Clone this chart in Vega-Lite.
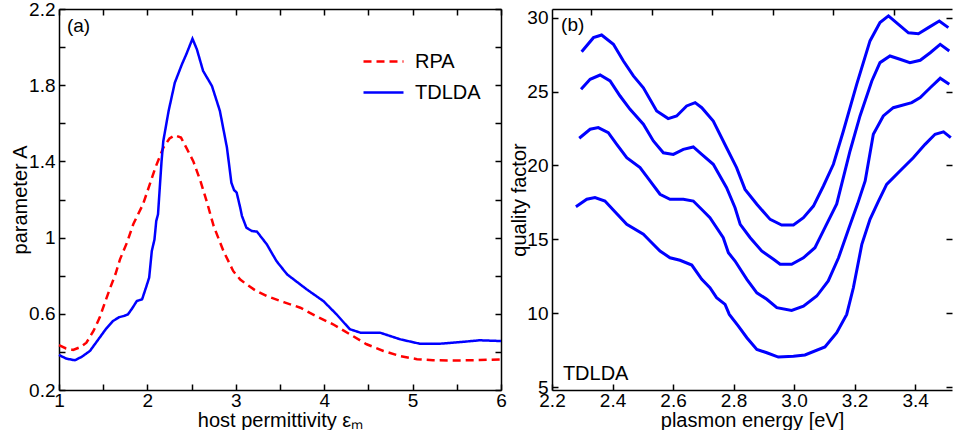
{
  "$schema": "https://vega.github.io/schema/vega-lite/v6.json",
  "padding": {"left": 10, "top": 0, "right": 0, "bottom": 0},
  "spacing": 51,
  "bounds": "flush",
  "config": {
    "font": "Liberation Sans",
    "view": {"stroke": null},
    "axis": {
      "grid": false, "domainColor": "black", "domainWidth": 1.5,
      "tickColor": "black", "tickWidth": 1.5, "tickSize": -6,
      "labelPadding": 10, "labelFontSize": 19, "labelColor": "black",
      "labelFont": "Liberation Sans", "labelOverlap": false, "labelFlush": false,
      "titleFontSize": 20, "titleFontWeight": "normal", "titleColor": "black",
      "titleFont": "Liberation Sans", "titlePadding": 2
    },
    "axisBottom": {"labelPadding": 7, "titlePadding": 0}
  },
  "datasets": {
    "a": [
      {"model": "RPA", "eps": 1, "A": 0.435}, {"model": "RPA", "eps": 1.08, "A": 0.418}, {"model": "RPA", "eps": 1.16, "A": 0.41},
      {"model": "RPA", "eps": 1.24, "A": 0.425}, {"model": "RPA", "eps": 1.31, "A": 0.448}, {"model": "RPA", "eps": 1.39, "A": 0.51},
      {"model": "RPA", "eps": 1.46, "A": 0.58}, {"model": "RPA", "eps": 1.52, "A": 0.66}, {"model": "RPA", "eps": 1.58, "A": 0.737},
      {"model": "RPA", "eps": 1.64, "A": 0.81}, {"model": "RPA", "eps": 1.69, "A": 0.886}, {"model": "RPA", "eps": 1.77, "A": 0.975},
      {"model": "RPA", "eps": 1.84, "A": 1.07}, {"model": "RPA", "eps": 1.95, "A": 1.175}, {"model": "RPA", "eps": 2.02, "A": 1.27},
      {"model": "RPA", "eps": 2.09, "A": 1.367}, {"model": "RPA", "eps": 2.18, "A": 1.472}, {"model": "RPA", "eps": 2.25, "A": 1.52},
      {"model": "RPA", "eps": 2.31, "A": 1.537}, {"model": "RPA", "eps": 2.38, "A": 1.525}, {"model": "RPA", "eps": 2.44, "A": 1.472},
      {"model": "RPA", "eps": 2.52, "A": 1.4}, {"model": "RPA", "eps": 2.6, "A": 1.297}, {"model": "RPA", "eps": 2.67, "A": 1.192},
      {"model": "RPA", "eps": 2.75, "A": 1.06}, {"model": "RPA", "eps": 2.86, "A": 0.93}, {"model": "RPA", "eps": 2.97, "A": 0.825},
      {"model": "RPA", "eps": 3.05, "A": 0.78}, {"model": "RPA", "eps": 3.12, "A": 0.755}, {"model": "RPA", "eps": 3.23, "A": 0.72},
      {"model": "RPA", "eps": 3.35, "A": 0.693}, {"model": "RPA", "eps": 3.55, "A": 0.66}, {"model": "RPA", "eps": 3.73, "A": 0.632},
      {"model": "RPA", "eps": 3.9, "A": 0.59}, {"model": "RPA", "eps": 4.1, "A": 0.545}, {"model": "RPA", "eps": 4.3, "A": 0.49},
      {"model": "RPA", "eps": 4.48, "A": 0.44}, {"model": "RPA", "eps": 4.67, "A": 0.405}, {"model": "RPA", "eps": 4.86, "A": 0.378},
      {"model": "RPA", "eps": 5.05, "A": 0.362}, {"model": "RPA", "eps": 5.23, "A": 0.356}, {"model": "RPA", "eps": 5.5, "A": 0.355},
      {"model": "RPA", "eps": 5.76, "A": 0.357}, {"model": "RPA", "eps": 6, "A": 0.361},
      {"model": "TDLDA", "eps": 1, "A": 0.384}, {"model": "TDLDA", "eps": 1.08, "A": 0.365}, {"model": "TDLDA", "eps": 1.18, "A": 0.356},
      {"model": "TDLDA", "eps": 1.26, "A": 0.375}, {"model": "TDLDA", "eps": 1.35, "A": 0.405}, {"model": "TDLDA", "eps": 1.46, "A": 0.475},
      {"model": "TDLDA", "eps": 1.53, "A": 0.52}, {"model": "TDLDA", "eps": 1.61, "A": 0.562}, {"model": "TDLDA", "eps": 1.68, "A": 0.582},
      {"model": "TDLDA", "eps": 1.73, "A": 0.588}, {"model": "TDLDA", "eps": 1.78, "A": 0.597}, {"model": "TDLDA", "eps": 1.83, "A": 0.63},
      {"model": "TDLDA", "eps": 1.88, "A": 0.667}, {"model": "TDLDA", "eps": 1.94, "A": 0.676}, {"model": "TDLDA", "eps": 1.99, "A": 0.746},
      {"model": "TDLDA", "eps": 2.02, "A": 0.79}, {"model": "TDLDA", "eps": 2.05, "A": 0.93}, {"model": "TDLDA", "eps": 2.08, "A": 0.99},
      {"model": "TDLDA", "eps": 2.1, "A": 1.087}, {"model": "TDLDA", "eps": 2.12, "A": 1.122}, {"model": "TDLDA", "eps": 2.14, "A": 1.262},
      {"model": "TDLDA", "eps": 2.16, "A": 1.4}, {"model": "TDLDA", "eps": 2.18, "A": 1.507}, {"model": "TDLDA", "eps": 2.24, "A": 1.665},
      {"model": "TDLDA", "eps": 2.31, "A": 1.813}, {"model": "TDLDA", "eps": 2.39, "A": 1.909}, {"model": "TDLDA", "eps": 2.44, "A": 1.962},
      {"model": "TDLDA", "eps": 2.51, "A": 2.044}, {"model": "TDLDA", "eps": 2.56, "A": 1.988}, {"model": "TDLDA", "eps": 2.63, "A": 1.875},
      {"model": "TDLDA", "eps": 2.73, "A": 1.796}, {"model": "TDLDA", "eps": 2.82, "A": 1.665}, {"model": "TDLDA", "eps": 2.9, "A": 1.472},
      {"model": "TDLDA", "eps": 2.95, "A": 1.288}, {"model": "TDLDA", "eps": 2.98, "A": 1.25}, {"model": "TDLDA", "eps": 3.01, "A": 1.236},
      {"model": "TDLDA", "eps": 3.05, "A": 1.157}, {"model": "TDLDA", "eps": 3.07, "A": 1.113}, {"model": "TDLDA", "eps": 3.12, "A": 1.052},
      {"model": "TDLDA", "eps": 3.18, "A": 1.035}, {"model": "TDLDA", "eps": 3.24, "A": 1.031}, {"model": "TDLDA", "eps": 3.35, "A": 0.965},
      {"model": "TDLDA", "eps": 3.46, "A": 0.877}, {"model": "TDLDA", "eps": 3.58, "A": 0.807}, {"model": "TDLDA", "eps": 3.8, "A": 0.729},
      {"model": "TDLDA", "eps": 3.99, "A": 0.667}, {"model": "TDLDA", "eps": 4.14, "A": 0.597}, {"model": "TDLDA", "eps": 4.29, "A": 0.519},
      {"model": "TDLDA", "eps": 4.41, "A": 0.501}, {"model": "TDLDA", "eps": 4.63, "A": 0.501}, {"model": "TDLDA", "eps": 4.86, "A": 0.466},
      {"model": "TDLDA", "eps": 5.08, "A": 0.443}, {"model": "TDLDA", "eps": 5.31, "A": 0.443}, {"model": "TDLDA", "eps": 5.55, "A": 0.452},
      {"model": "TDLDA", "eps": 5.76, "A": 0.461}, {"model": "TDLDA", "eps": 6, "A": 0.457}
    ],
    "b": [
      {"curve": 1, "E": 2.298, "Q": 27.7}, {"curve": 1, "E": 2.337, "Q": 28.65}, {"curve": 1, "E": 2.364, "Q": 28.83}, {"curve": 1, "E": 2.403, "Q": 28.2},
      {"curve": 1, "E": 2.436, "Q": 27.07}, {"curve": 1, "E": 2.469, "Q": 26.06}, {"curve": 1, "E": 2.502, "Q": 25.26}, {"curve": 1, "E": 2.546, "Q": 23.69},
      {"curve": 1, "E": 2.584, "Q": 23.17}, {"curve": 1, "E": 2.612, "Q": 23.35}, {"curve": 1, "E": 2.645, "Q": 24.03}, {"curve": 1, "E": 2.673, "Q": 24.25},
      {"curve": 1, "E": 2.695, "Q": 23.91}, {"curve": 1, "E": 2.733, "Q": 23.01}, {"curve": 1, "E": 2.777, "Q": 21.2}, {"curve": 1, "E": 2.81, "Q": 19.85},
      {"curve": 1, "E": 2.838, "Q": 18.38}, {"curve": 1, "E": 2.877, "Q": 17.37}, {"curve": 1, "E": 2.921, "Q": 16.35}, {"curve": 1, "E": 2.959, "Q": 15.97},
      {"curve": 1, "E": 2.998, "Q": 15.97}, {"curve": 1, "E": 3.031, "Q": 16.46}, {"curve": 1, "E": 3.064, "Q": 17.25}, {"curve": 1, "E": 3.097, "Q": 18.61},
      {"curve": 1, "E": 3.13, "Q": 20.08}, {"curve": 1, "E": 3.163, "Q": 22.33}, {"curve": 1, "E": 3.207, "Q": 25.49}, {"curve": 1, "E": 3.251, "Q": 28.43},
      {"curve": 1, "E": 3.284, "Q": 29.67}, {"curve": 1, "E": 3.312, "Q": 30.12}, {"curve": 1, "E": 3.345, "Q": 29.55}, {"curve": 1, "E": 3.378, "Q": 28.98},
      {"curve": 1, "E": 3.411, "Q": 28.92}, {"curve": 1, "E": 3.444, "Q": 29.33}, {"curve": 1, "E": 3.48, "Q": 29.78}, {"curve": 1, "E": 3.51, "Q": 29.33},
      {"curve": 2, "E": 2.296, "Q": 25.16}, {"curve": 2, "E": 2.326, "Q": 25.83}, {"curve": 2, "E": 2.359, "Q": 26.12}, {"curve": 2, "E": 2.392, "Q": 25.72},
      {"curve": 2, "E": 2.425, "Q": 24.7}, {"curve": 2, "E": 2.458, "Q": 23.8}, {"curve": 2, "E": 2.502, "Q": 22.79}, {"curve": 2, "E": 2.535, "Q": 21.66},
      {"curve": 2, "E": 2.568, "Q": 20.86}, {"curve": 2, "E": 2.601, "Q": 20.75}, {"curve": 2, "E": 2.634, "Q": 21.09}, {"curve": 2, "E": 2.667, "Q": 21.25},
      {"curve": 2, "E": 2.695, "Q": 20.75}, {"curve": 2, "E": 2.733, "Q": 20.08}, {"curve": 2, "E": 2.777, "Q": 18.49}, {"curve": 2, "E": 2.805, "Q": 17.14},
      {"curve": 2, "E": 2.822, "Q": 16.01}, {"curve": 2, "E": 2.855, "Q": 15.11}, {"curve": 2, "E": 2.893, "Q": 14.21}, {"curve": 2, "E": 2.932, "Q": 13.65},
      {"curve": 2, "E": 2.954, "Q": 13.31}, {"curve": 2, "E": 2.992, "Q": 13.31}, {"curve": 2, "E": 3.031, "Q": 13.75}, {"curve": 2, "E": 3.069, "Q": 14.43},
      {"curve": 2, "E": 3.102, "Q": 15.79}, {"curve": 2, "E": 3.141, "Q": 17.4}, {"curve": 2, "E": 3.185, "Q": 20.98}, {"curve": 2, "E": 3.218, "Q": 23.35},
      {"curve": 2, "E": 3.257, "Q": 25.72}, {"curve": 2, "E": 3.284, "Q": 26.96}, {"curve": 2, "E": 3.317, "Q": 27.41}, {"curve": 2, "E": 3.35, "Q": 27.19},
      {"curve": 2, "E": 3.383, "Q": 26.96}, {"curve": 2, "E": 3.417, "Q": 27.12}, {"curve": 2, "E": 3.45, "Q": 27.63}, {"curve": 2, "E": 3.483, "Q": 28.2},
      {"curve": 2, "E": 3.513, "Q": 27.75},
      {"curve": 3, "E": 2.29, "Q": 21.84}, {"curve": 3, "E": 2.326, "Q": 22.45}, {"curve": 3, "E": 2.353, "Q": 22.56}, {"curve": 3, "E": 2.386, "Q": 22.22},
      {"curve": 3, "E": 2.414, "Q": 21.43}, {"curve": 3, "E": 2.447, "Q": 20.52}, {"curve": 3, "E": 2.491, "Q": 19.85}, {"curve": 3, "E": 2.524, "Q": 18.95},
      {"curve": 3, "E": 2.557, "Q": 18.05}, {"curve": 3, "E": 2.59, "Q": 17.71}, {"curve": 3, "E": 2.634, "Q": 17.71}, {"curve": 3, "E": 2.667, "Q": 17.59},
      {"curve": 3, "E": 2.7, "Q": 16.92}, {"curve": 3, "E": 2.722, "Q": 16.46}, {"curve": 3, "E": 2.766, "Q": 15.11}, {"curve": 3, "E": 2.783, "Q": 14.09},
      {"curve": 3, "E": 2.805, "Q": 13.53}, {"curve": 3, "E": 2.844, "Q": 12.29}, {"curve": 3, "E": 2.877, "Q": 11.38}, {"curve": 3, "E": 2.91, "Q": 10.94},
      {"curve": 3, "E": 2.943, "Q": 10.37}, {"curve": 3, "E": 2.992, "Q": 10.19}, {"curve": 3, "E": 3.031, "Q": 10.48}, {"curve": 3, "E": 3.075, "Q": 11.16},
      {"curve": 3, "E": 3.113, "Q": 12.18}, {"curve": 3, "E": 3.147, "Q": 13.75}, {"curve": 3, "E": 3.18, "Q": 15.68}, {"curve": 3, "E": 3.21, "Q": 17.4},
      {"curve": 3, "E": 3.235, "Q": 18.95}, {"curve": 3, "E": 3.262, "Q": 22.11}, {"curve": 3, "E": 3.295, "Q": 23.35}, {"curve": 3, "E": 3.328, "Q": 23.91},
      {"curve": 3, "E": 3.389, "Q": 24.25}, {"curve": 3, "E": 3.417, "Q": 24.59}, {"curve": 3, "E": 3.45, "Q": 25.26}, {"curve": 3, "E": 3.483, "Q": 25.9},
      {"curve": 3, "E": 3.513, "Q": 25.49},
      {"curve": 4, "E": 2.279, "Q": 17.21}, {"curve": 4, "E": 2.315, "Q": 17.71}, {"curve": 4, "E": 2.342, "Q": 17.82}, {"curve": 4, "E": 2.375, "Q": 17.59},
      {"curve": 4, "E": 2.408, "Q": 16.86}, {"curve": 4, "E": 2.447, "Q": 16.02}, {"curve": 4, "E": 2.502, "Q": 15.34}, {"curve": 4, "E": 2.524, "Q": 14.89},
      {"curve": 4, "E": 2.557, "Q": 14.21}, {"curve": 4, "E": 2.59, "Q": 13.75}, {"curve": 4, "E": 2.623, "Q": 13.58}, {"curve": 4, "E": 2.662, "Q": 13.26},
      {"curve": 4, "E": 2.695, "Q": 12.29}, {"curve": 4, "E": 2.722, "Q": 11.72}, {"curve": 4, "E": 2.744, "Q": 11.05}, {"curve": 4, "E": 2.772, "Q": 10.6},
      {"curve": 4, "E": 2.786, "Q": 9.92}, {"curve": 4, "E": 2.816, "Q": 9.13}, {"curve": 4, "E": 2.844, "Q": 8.34}, {"curve": 4, "E": 2.877, "Q": 7.55},
      {"curve": 4, "E": 2.91, "Q": 7.32}, {"curve": 4, "E": 2.948, "Q": 7.03}, {"curve": 4, "E": 2.998, "Q": 7.08}, {"curve": 4, "E": 3.036, "Q": 7.17},
      {"curve": 4, "E": 3.102, "Q": 7.71}, {"curve": 4, "E": 3.141, "Q": 8.68}, {"curve": 4, "E": 3.174, "Q": 9.92}, {"curve": 4, "E": 3.196, "Q": 11.72},
      {"curve": 4, "E": 3.224, "Q": 14.66}, {"curve": 4, "E": 3.251, "Q": 16.35}, {"curve": 4, "E": 3.279, "Q": 17.59}, {"curve": 4, "E": 3.306, "Q": 18.72},
      {"curve": 4, "E": 3.35, "Q": 19.62}, {"curve": 4, "E": 3.394, "Q": 20.52}, {"curve": 4, "E": 3.433, "Q": 21.43}, {"curve": 4, "E": 3.466, "Q": 22.11},
      {"curve": 4, "E": 3.494, "Q": 22.27}, {"curve": 4, "E": 3.518, "Q": 21.88}
    ]
  },
  "hconcat": [
    {
      "width": 442, "height": 381,
      "layer": [
        {
          "data": {"name": "a"},
          "mark": {"type": "line", "strokeWidth": 2.5},
          "encoding": {
            "x": {"field": "eps", "type": "quantitative",
              "scale": {"domain": [1, 6], "nice": false, "zero": false},
              "axis": {"orient": "bottom", "title": "host permittivity εₘ", "format": "~g",
                "values": [1, 1.5, 2, 2.5, 3, 3.5, 4, 4.5, 5, 5.5, 6],
                "labelExpr": "datum.value % 1 == 0 ? datum.label : ''"}},
            "y": {"field": "A", "type": "quantitative",
              "scale": {"domain": [0.2, 2.2], "nice": false, "zero": false},
              "axis": {"orient": "left", "title": "parameter A", "format": "~g", "titlePadding": -2,
                "values": [0.2, 0.4, 0.6, 0.8, 1, 1.2, 1.4, 1.6, 1.8, 2, 2.2],
                "labelExpr": "(round(datum.value*10) % 4 == 2) ? datum.label : ''"}},
            "color": {"field": "model", "type": "nominal",
              "scale": {"domain": ["RPA", "TDLDA"], "range": ["#ff0000", "#0000ff"]},
              "legend": {"title": null, "orient": "none", "legendX": 313, "legendY": 41,
                "symbolType": "M-2,0H2", "symbolSize": 400, "symbolStrokeWidth": 2.5,
                "labelFontSize": 20, "labelOffset": 20, "rowPadding": 9, "padding": 0,
                "labelFont": "Liberation Sans", "labelColor": "black"}},
            "strokeDash": {"field": "model", "type": "nominal",
              "scale": {"domain": ["RPA", "TDLDA"], "range": [[8, 5], [1, 0]]},
              "legend": {"title": null, "orient": "none", "legendX": 313, "legendY": 41,
                "symbolType": "M-2,0H2", "symbolSize": 400, "symbolStrokeWidth": 2.5,
                "labelFontSize": 20, "labelOffset": 20, "rowPadding": 9, "padding": 0,
                "labelFont": "Liberation Sans", "labelColor": "black"}}
          }
        },
        {
          "data": {"values": [{}]},
          "mark": {"type": "text", "text": "(a)", "align": "left", "baseline": "middle", "fontSize": 19, "font": "Liberation Sans", "color": "black"},
          "encoding": {
            "x": {"datum": 1.09, "type": "quantitative",
              "axis": {"orient": "top", "labels": false, "title": null,
                "values": [1, 1.5, 2, 2.5, 3, 3.5, 4, 4.5, 5, 5.5, 6]}},
            "y": {"datum": 2.11, "type": "quantitative",
              "axis": {"orient": "right", "labels": false, "title": null,
                "values": [0.2, 0.4, 0.6, 0.8, 1, 1.2, 1.4, 1.6, 1.8, 2, 2.2]}}
          }
        }
      ],
      "resolve": {"axis": {"x": "independent", "y": "independent"}}
    },
    {
      "width": 400, "height": 381,
      "layer": [
        {
          "data": {"name": "b"},
          "mark": {"type": "line", "strokeWidth": 3, "color": "#0000ff"},
          "encoding": {
            "x": {"field": "E", "type": "quantitative",
              "scale": {"domain": [2.2, 3.522], "nice": false, "zero": false},
              "axis": {"orient": "bottom", "title": "plasmon energy [eV]", "format": ".1f",
                "values": [2.2, 2.4, 2.6, 2.8, 3.0, 3.2, 3.4]}},
            "y": {"field": "Q", "type": "quantitative",
              "scale": {"domain": [4.8, 30.59], "nice": false, "zero": false},
              "axis": {"orient": "left", "title": "quality factor", "format": "d", "titlePadding": -3,
                "values": [5, 10, 15, 20, 25, 30]}},
            "detail": {"field": "curve", "type": "nominal"}
          }
        },
        {
          "data": {"values": [{}]},
          "mark": {"type": "text", "text": "(b)", "align": "left", "baseline": "middle", "fontSize": 19, "font": "Liberation Sans", "color": "black"},
          "encoding": {
            "x": {"datum": 2.23, "type": "quantitative",
              "axis": {"orient": "top", "labels": false, "title": null,
                "values": [2.33, 2.53, 2.73, 2.93, 3.13, 3.33]}},
            "y": {"datum": 29.5, "type": "quantitative",
              "axis": {"orient": "right", "labels": false, "title": null, "domain": false,
                "values": [5, 10, 15, 20, 25, 30]}}
          }
        },
        {
          "data": {"values": [{}]},
          "mark": {"type": "text", "text": "TDLDA", "align": "left", "baseline": "middle", "fontSize": 20, "font": "Liberation Sans", "color": "black"},
          "encoding": {
            "x": {"datum": 2.236, "type": "quantitative", "axis": null},
            "y": {"datum": 5.9, "type": "quantitative", "axis": null}
          }
        }
      ],
      "resolve": {"axis": {"x": "independent", "y": "independent"}}
    }
  ]
}
